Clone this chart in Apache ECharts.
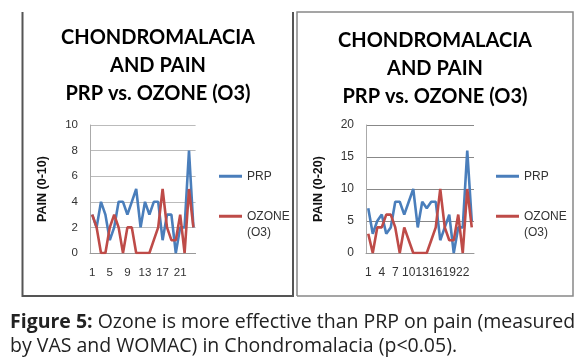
<!DOCTYPE html>
<html><head><meta charset="utf-8">
<script src="https://cdn.jsdelivr.net/npm/echarts@6/dist/echarts.min.js"></script>
<style>html,body{margin:0;padding:0;background:#fff}#c{width:581px;height:361px}</style>
</head><body><div id="c"></div>
<script>
const categories = ['1','2','3','4','5','6','7','8','9','10','11','12','13','14','15','16','17','18','19','20','21','22','23','24'];
const vasPRP   = [3,2,4,3,1,2,4,4,3,4,5,2,4,3,4,4,1,3,3,0,2,2,8,2];
const vasOzone = [3,2,0,0,2,3,2,0,2,2,0,0,0,0,1,2,5,2,1,1,3,0,5,2];
const womacPRP   = [7,3,5,6,3,4,8,8,6,8,10,4,8,7,8,8,2,4,6,0,4,4,16,5];
const womacOzone = [3,0,4,4,6,6,4,0,4,2,0,0,0,0,2,4,10,4,2,2,6,0,10,4];
const titleText = 'CHONDROMALACIA\nAND PAIN\nPRP vs. OZONE (O3)';
const yNames = ['PAIN (0-10)', 'PAIN (0-20)'];
const captionBold = 'Figure 5:';
const captionRest = ' Ozone is more effective than PRP on pain (measured\nby VAS and WOMAC) in Chondromalacia (p<0.05).';

const BLUE = '#4a7ebb', RED = '#be4b48';
const chart = echarts.init(document.getElementById('c'));

function xAx(gi, interval, fs) {
  return {type:'category', gridIndex:gi, data:categories, boundaryGap:true,
    axisTick:{show:false}, axisLine:{lineStyle:{color:'#999', width:1}},
    axisLabel:{interval:interval, color:'#333', fontSize:fs, fontFamily:'Liberation Sans', margin:14}};
}
function yAx(gi, max, interval, name, splitColor, fs) {
  return {type:'value', gridIndex:gi, min:0, max:max, interval:interval,
    name:name, nameLocation:'middle', nameRotate:90, nameGap:41,
    nameTextStyle:{fontWeight:'bold', fontSize:12.5, color:'#111', fontFamily:'Liberation Sans'},
    axisLine:{show:true, lineStyle:{color:'#aaa'}}, axisTick:{show:false},
    splitLine:{lineStyle:{color:splitColor}},
    axisLabel:{color:'#333', fontSize:fs, fontFamily:'Liberation Sans', margin:12}};
}
function ln(name, xi, data, color) {
  return {type:'line', name:name, xAxisIndex:xi, yAxisIndex:xi, data:data,
    symbol:'none', lineStyle:{color:color, width:2.6}, itemStyle:{color:color}};
}
function legendAt(left) {
  return {orient:'vertical', left:left, top:163, itemGap:7, icon:'rect', itemWidth:23, itemHeight:3,
    data:['PRP','OZONE (O3)'],
    textStyle:{fontSize:12, color:'#333', fontFamily:'Liberation Sans', lineHeight:16.5},
    formatter: n => n === 'OZONE (O3)' ? '\nOZONE\n(O3)' : n};
}
const titleFont = 'bold 20px Lato';
chart.setOption({
  backgroundColor:'#fff',
  animation:false,
  grid:[{left:90, top:125, width:105.6, height:128}, {left:366, top:125, width:108, height:128}],
  xAxis:[xAx(0,3,11.5), xAx(1,2,12)],
  yAxis:[yAx(0,10,2,yNames[0],'#bbb',11.5), yAx(1,20,5,yNames[1],'#888',12)],
  legend:[legendAt(214), legendAt(491)],
  series:[ln('PRP',0,vasPRP,BLUE), ln('OZONE (O3)',0,vasOzone,RED),
          ln('PRP',1,womacPRP,BLUE), ln('OZONE (O3)',1,womacOzone,RED)],
  graphic:[
    {type:'polyline', shape:{points:[[22.5,12],[22.5,296],[293,296],[293,12]]}, style:{stroke:'#555', lineWidth:2, fill:null}},
    {type:'polyline', shape:{points:[[297,296],[297,12],[573,12],[573,296],[297,296]]}, style:{stroke:'#888', lineWidth:1.5, fill:null}},
    {type:'text', style:{text:titleText, x:158, y:24, textAlign:'center', font:titleFont, lineHeight:28, fill:'#000'}},
    {type:'text', style:{text:titleText, x:435, y:27, textAlign:'center', font:titleFont, lineHeight:28, fill:'#000'}},
    {type:'text', style:{text:'{b|'+captionBold+'}'+captionRest, x:10, y:310, fontSize:19.5, fontFamily:'Open Sans', fill:'#222', lineHeight:24,
      rich:{b:{fontWeight:'bold', fontSize:19.5, fontFamily:'Open Sans', fill:'#222', lineHeight:24}}}}
  ]
});
</script></body></html>
